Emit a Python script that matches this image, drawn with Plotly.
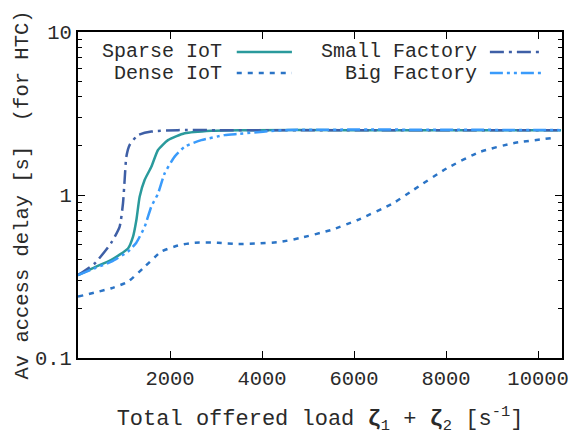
import plotly.graph_objects as go

# ---- data ----
sparse_x = [0, 362, 725, 1087, 1196, 1268, 1340, 1450, 1594, 1739, 1956, 2319, 2900, 3500, 6000, 8000, 10500]
sparse_y = [0.323, 0.36, 0.40, 0.47, 0.555, 0.70, 0.976, 1.24, 1.49, 1.89, 2.17, 2.39, 2.48, 2.5, 2.5, 2.5, 2.5]

dense_x = [0, 725, 1087, 1450, 1812, 2174, 2536, 3043, 3478, 3960, 4390, 4830, 5500, 6065, 6850, 7280, 8020, 8740, 9460, 10330]
dense_y = [0.238, 0.268, 0.294, 0.363, 0.45, 0.49, 0.51, 0.51, 0.50, 0.505, 0.515, 0.545, 0.61, 0.70, 0.89, 1.07, 1.46, 1.84, 2.08, 2.24]

small_x = [0, 362, 725, 906, 978, 1014, 1050, 1123, 1304, 1594, 2174, 3000, 10500]
small_y = [0.323, 0.38, 0.51, 0.64, 0.89, 1.24, 1.71, 2.03, 2.33, 2.45, 2.5, 2.5, 2.5]

big_x = [0, 362, 725, 1087, 1268, 1450, 1594, 1739, 1884, 2101, 2319, 2681, 3188, 3478, 4500, 10500]
big_y = [0.323, 0.355, 0.39, 0.45, 0.51, 0.64, 0.85, 1.02, 1.36, 1.72, 1.98, 2.17, 2.33, 2.37, 2.5, 2.5]

x_ticks = [2000, 4000, 6000, 8000, 10000]
x_ticklabels = ["2000", "4000", "6000", "8000", "10000"]
y_ticks = [0.1, 1, 10]
y_ticklabels = ["0.1", "1", "10"]

series = [
    ("Sparse IoT", sparse_x, sparse_y, "#2a9a9c", "solid"),
    ("Dense IoT", dense_x, dense_y, "#2b74c6", "5px,6px"),
    ("Small Factory", small_x, small_y, "#3e5fa6", "14px,5px,3px,5px"),
    ("Big Factory", big_x, big_y, "#3a9bfb", "13px,4px,3px,4px,3px,4px"),
]

FONT = "Liberation Mono"
TXT = "#2a2a2a"
fig = go.Figure()
for name, xs, ys, col, dash in series:
    fig.add_trace(go.Scatter(x=xs, y=ys, mode="lines", name=name,
                             line=dict(color=col, width=2.5, dash=dash, shape="spline", smoothing=0.5),
                             showlegend=False))

# gnuplot-style legend (text right, sample line to the right)
leg = [
    (series[0], 0.2975, 0.939, 0.328, 0.442),
    (series[1], 0.2975, 0.874, 0.328, 0.442),
    (series[2], 0.824, 0.939, 0.851, 0.961),
    (series[3], 0.824, 0.874, 0.851, 0.961),
]
for (name, _, _, col, dash), tx, ty, x0, x1 in leg:
    fig.add_annotation(x=tx, y=ty, xref="paper", yref="paper", text=name, showarrow=False,
                       xanchor="right", yanchor="middle", xshift=2,
                       font=dict(family=FONT, size=20, color=TXT))
    fig.add_shape(type="line", xref="paper", yref="paper", x0=x0, x1=x1, y0=ty, y1=ty,
                  line=dict(color=col, width=2.5, dash=dash))

axis_common = dict(showline=True, linecolor="black", linewidth=2, mirror="allticks",
                   ticks="inside", tickcolor="black", tickwidth=1, ticklen=7,
                   showgrid=False, zeroline=False,
                   tickfont=dict(family=FONT, size=20.5, color=TXT))

fig.update_xaxes(range=[0, 10520], tickvals=x_ticks, ticktext=x_ticklabels, **axis_common,
                 title=dict(text="Total offered load <b>ζ</b><sub>1</sub> + <b>ζ</b><sub>2</sub> [s<sup>-1</sup>]",
                            font=dict(family=FONT, size=22, color=TXT), standoff=20))
fig.update_yaxes(type="log", range=[-1, 1], tickvals=y_ticks, ticktext=y_ticklabels, **axis_common,
                 minor=dict(ticks="inside", ticklen=4, tickcolor="black", dtick="D1"),
                 title=dict(text="Av access delay [s]  (for HTC)",
                            font=dict(family=FONT, size=20.5, color=TXT), standoff=1))

fig.update_layout(width=587, height=436, margin=dict(l=78, r=25, t=32, b=78, autoexpand=False),
                  plot_bgcolor="white", paper_bgcolor="white")
fig.write_html("out.html")
